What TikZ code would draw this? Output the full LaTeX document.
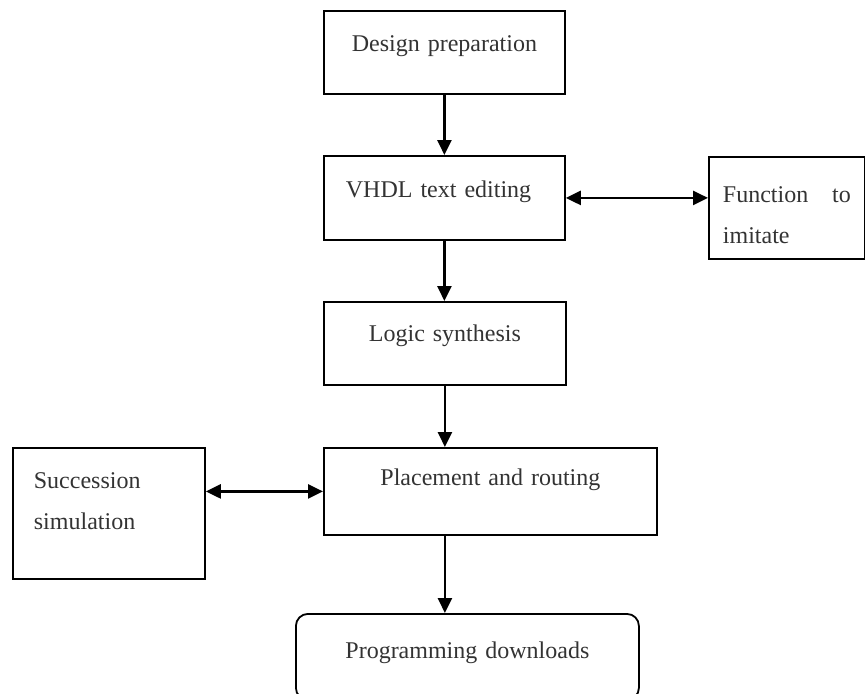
\documentclass[tikz,border=0pt]{standalone}
\usepackage{fontspec}
\setmainfont{Liberation Serif}
\usetikzlibrary{arrows.meta}

\begin{document}
\begin{tikzpicture}[x=0.5pt,y=-0.5pt,
  flowbox/.style={draw,line width=0.9pt,inner sep=0pt,anchor=north west,text height=20.5pt,
    text=black!80,font=\fontsize{12}{20.5}\selectfont},
  tip/.style={Triangle[length=7.5pt,width=7pt]},
  flow/.style={line width=1.2pt,-{Triangle[length=7.5pt,width=7pt]}},
  twoway/.style={line width=1.2pt,{Triangle[length=7.5pt,width=7pt]}-{Triangle[length=7.5pt,width=7pt]}}]
\useasboundingbox (0,0) rectangle (865,693);

\node[flowbox,text width=120.5pt,align=center,text depth=21pt] (design) at (323,10) {Design preparation};
\node[flowbox,inner xsep=11pt,text width=98.5pt,align=left,text height=21pt,text depth=21pt] (vhdl) at (323,155) {VHDL text editing};
\node[flowbox,inner xsep=7pt,text width=64pt,align=left,text height=23pt,text depth=28pt] (imitate) at (708,156) {Function\hfill to\\imitate};
\node[flowbox,text width=121pt,align=center,text height=20pt,text depth=21.5pt] (logic) at (323,301) {Logic synthesis};
\node[flowbox,text width=166.5pt,align=center,text height=19pt,text depth=24.5pt] (route) at (323,447) {Placement and routing};
\node[flowbox,inner xsep=10.5pt,text width=75pt,align=left,text depth=45pt] (succ) at (12,447) {Succession\\simulation};
\node[flowbox,rounded corners=6pt,text width=171.5pt,align=center,text height=22.5pt,text depth=20.5pt] (prog) at (295,613) {Programming downloads};

\draw[flow] (design.south) -- (vhdl.north);
\draw[flow] (vhdl.south) -- (vhdl.south |- logic.north);
\draw[flow] (logic.south) -- (logic.south |- route.north);
\draw[flow] (route.south -| logic.south) -- (prog.north -| logic.south);
\draw[twoway] (vhdl.east) -- (vhdl.east -| imitate.west);
\draw[twoway] (route.west) -- (route.west -| succ.east);

\end{tikzpicture}
\end{document}
